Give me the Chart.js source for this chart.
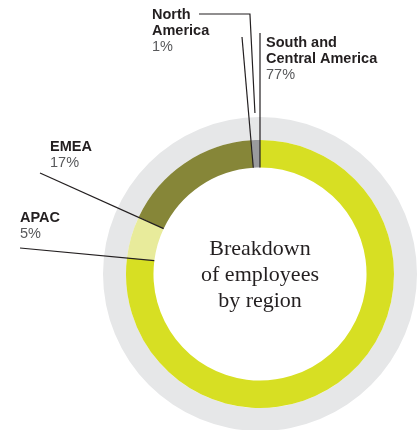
<!DOCTYPE html>
<html>
<head>
<meta charset="utf-8">
<script src="https://cdn.jsdelivr.net/npm/chart.js@4.4.1/dist/chart.umd.min.js"></script>
<style>
  html, body { margin: 0; padding: 0; background: #fff; }
  #wrap { position: relative; width: 419px; height: 430px; }
</style>
</head>
<body>
<div id="wrap"><canvas id="regionChart" width="419" height="430"></canvas></div>
<script>
// ==========================================
// DATA
// ==========================================
const regions = ['South and Central America', 'APAC', 'EMEA', 'North America'];
const shares = [77, 5, 17, 1];
const sliceColors = ['#d7df23', '#e8eb9b', '#868638', '#9a9b9e'];
const centerTitle = ['Breakdown', 'of employees', 'by region'];

// label text blocks (bold lines; the percent line is added below them)
const labelLines = [
    ['South and', 'Central America'],
    ['APAC'],
    ['EMEA'],
    ['North', 'America']
];

// where each label sits (layout only)
const labelPos = [
    { x: 266, y: 47, from: [260, 33] },
    { x: 20, y: 222, from: [20, 248] },
    { x: 50, y: 151, from: [40, 173] },
    { x: 152, y: 19, from: [242, 37] }
];

const INK = '#231f20';

// ==========================================
// PLUGINS
// ==========================================

// light grey halo ring around the doughnut
const haloRing = {
    id: 'haloRing',
    beforeDatasetsDraw(chart) {
        const arc = chart.getDatasetMeta(0).data[0];
        if (!arc) return;
        const c = chart.ctx;
        c.save();
        c.beginPath();
        c.arc(arc.x, arc.y, arc.outerRadius + 23, 0, Math.PI * 2);
        c.arc(arc.x, arc.y, arc.outerRadius, 0, Math.PI * 2, true);
        c.fillStyle = '#e6e7e8';
        c.fill();
        c.restore();
    }
};

// callout labels + leader lines + title in the hole
const callouts = {
    id: 'callouts',
    afterDatasetsDraw(chart) {
        const c = chart.ctx;
        const arcs = chart.getDatasetMeta(0).data;
        const cx = arcs[0].x, cy = arcs[0].y;
        const pt = (a, r) => [cx + r * Math.cos(a), cy + r * Math.sin(a)];

        c.save();
        c.strokeStyle = INK;
        c.lineWidth = 1.2;

        // leader lines point at the start edge of each slice, on the inner radius
        arcs.forEach((arc, i) => {
            const p = labelPos[i];
            const end = pt(arc.startAngle, arc.innerRadius);
            c.beginPath();
            c.moveTo(p.from[0], p.from[1]);
            c.lineTo(end[0], end[1]);
            c.stroke();
        });

        // extra elbow line from the North America label
        const na = arcs[3];
        const mid = (na.startAngle + na.endAngle) / 2;
        const tip = pt(mid, na.outerRadius + 27);
        c.beginPath();
        c.moveTo(199, 14);
        c.lineTo(tip[0] - 5, 14);
        c.lineTo(tip[0], tip[1]);
        c.stroke();

        // label text
        c.textAlign = 'left';
        c.textBaseline = 'alphabetic';
        arcs.forEach((arc, i) => {
            const p = labelPos[i];
            let y = p.y;
            c.font = 'bold 14.5px "Liberation Sans", Arial, sans-serif';
            c.fillStyle = INK;
            labelLines[i].forEach(line => {
                c.fillText(line, p.x, y);
                y += 16;
            });
            c.font = '14.5px "Liberation Sans", Arial, sans-serif';
            c.fillStyle = '#58595b';
            c.fillText(shares[i] + '%', p.x, y);
        });

        // title in the hole
        c.textAlign = 'center';
        c.font = '22px "Liberation Serif", "Times New Roman", serif';
        c.fillStyle = INK;
        centerTitle.forEach((line, i) => {
            c.fillText(line, cx, 255 + i * 26);
        });
        c.restore();
    }
};

// ==========================================
// CHART
// ==========================================
const ctx = document.getElementById('regionChart').getContext('2d');
new Chart(ctx, {
    type: 'doughnut',
    data: {
        labels: regions,
        datasets: [{
            data: shares,
            backgroundColor: sliceColors,
            borderWidth: 0
        }]
    },
    options: {
        responsive: false,
        animation: false,
        cutout: '79.5%',
        layout: { padding: { left: 126, right: 25, top: 140, bottom: 22 } },
        plugins: {
            legend: { display: false },
            tooltip: { enabled: false }
        }
    },
    plugins: [haloRing, callouts]
});
</script>
</body>
</html>
